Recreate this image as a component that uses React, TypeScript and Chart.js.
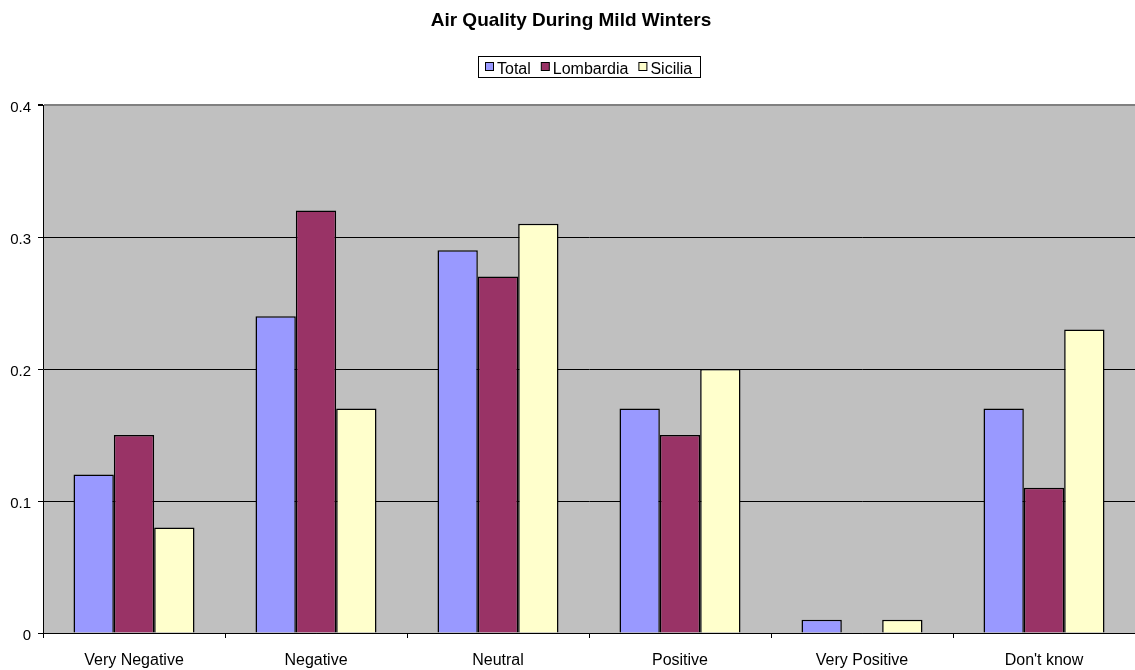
import React, { useEffect, useRef } from 'react';
import { Chart, registerables } from 'chart.js';

Chart.register(...registerables);

const chartTitle = 'Air Quality During Mild Winters';
const categories = ['Very Negative', 'Negative', 'Neutral', 'Positive', 'Very Positive', "Don't know"];
const seriesNames = ['Total', 'Lombardia', 'Sicilia'];
const totalValues = [0.12, 0.24, 0.29, 0.17, 0.01, 0.17];
const lombardiaValues = [0.15, 0.32, 0.27, 0.15, 0, 0.11];
const siciliaValues = [0.08, 0.17, 0.31, 0.2, 0.01, 0.23];
const seriesColors = ['#9999FF', '#993366', '#FFFFCC'];
const yTicks = [0, 0.1, 0.2, 0.3, 0.4];
const yTickLabels = ['0', '0.1', '0.2', '0.3', '0.4'];

const FONT = '"Liberation Sans", Arial, sans-serif';

const decorPlugin = {
  id: 'decor',
  beforeDraw(chart: any) {
    const { ctx, chartArea: a } = chart;
    ctx.save();
    ctx.fillStyle = '#C0C0C0';
    ctx.fillRect(a.left, a.top, a.right - a.left, a.bottom - a.top);
    ctx.restore();
  },
  afterDraw(chart: any) {
    const { ctx } = chart;
    ctx.save();
    // title
    ctx.fillStyle = '#000';
    ctx.font = `bold 19px ${FONT}`;
    ctx.textAlign = 'center';
    ctx.textBaseline = 'alphabetic';
    ctx.fillText(chartTitle, 571, 26);
    // legend
    ctx.font = `16px ${FONT}`;
    ctx.textAlign = 'left';
    const sq = 8;
    const startX = 485;
    let x = startX;
    const items = chart.data.datasets.map((d: any) => ({ label: d.label, color: d.backgroundColor }));
    const positions: number[] = [];
    items.forEach((it: any) => {
      positions.push(x);
      x += sq + 4 + ctx.measureText(it.label).width + 10;
    });
    const boxLeft = 478.5;
    const boxRight = Math.round(x - 10 + 8) + 0.5;
    ctx.fillStyle = '#FFFFFF';
    ctx.fillRect(boxLeft, 56.5, boxRight - boxLeft, 21);
    ctx.strokeStyle = '#000';
    ctx.lineWidth = 1;
    ctx.strokeRect(boxLeft, 56.5, boxRight - boxLeft, 21);
    items.forEach((it: any, i: number) => {
      const px = positions[i];
      ctx.fillStyle = it.color;
      ctx.fillRect(px + 0.5, 62.5, sq, sq);
      ctx.strokeStyle = '#000';
      ctx.strokeRect(px + 0.5, 62.5, sq, sq);
      ctx.fillStyle = '#000';
      ctx.fillText(it.label, px + sq + 4, 74);
    });
    ctx.restore();
  },
};

export default function App() {
  const canvasRef = useRef<HTMLCanvasElement | null>(null);

  useEffect(() => {
    if (!canvasRef.current) return;
    const values = [totalValues, lombardiaValues, siciliaValues];
    const chart = new Chart(canvasRef.current, {
      type: 'bar',
      data: {
        labels: categories,
        datasets: seriesNames.map((name, i) => ({
          label: name,
          data: values[i],
          backgroundColor: seriesColors[i],
          borderColor: '#000000',
          borderWidth: 1.5,
          categoryPercentage: 0.665,
          barPercentage: 1,
        })),
      },
      options: {
        responsive: false,
        animation: false,
        devicePixelRatio: 1,
        layout: { padding: { top: 105, left: 0, right: 0, bottom: 0 } },
        plugins: {
          legend: { display: false },
          title: { display: false },
          tooltip: { enabled: false },
        },
        scales: {
          x: {
            offset: true,
            grid: { offset: true, drawOnChartArea: false, tickLength: 5, color: '#000000' },
            border: { color: '#000000', width: 1 },
            ticks: { color: '#000000', font: { family: FONT, size: 16 }, padding: 13, maxRotation: 0, autoSkip: false },
            afterFit: (scale: any) => {
              scale.height = 37;
            },
          },
          y: {
            min: 0,
            max: 0.4,
            afterBuildTicks: (scale: any) => {
              scale.ticks = yTicks.map((v) => ({ value: v }));
            },
            grid: {
              color: (c: any) => (c.tick && c.tick.value === 0.4 ? '#808080' : '#000000'),
              lineWidth: (c: any) => (c.tick && c.tick.value === 0.4 ? 2 : 1),
              tickLength: 5,
              tickColor: '#000000',
            },
            border: { color: '#000000', width: 1 },
            ticks: {
              color: '#000000',
              font: { family: FONT, size: 15 },
              padding: 7,
              labelOffset: 3,
              callback: (_v: any, i: number) => yTickLabels[i],
            },
            afterFit: (scale: any) => {
              scale.width = 43;
            },
          },
        },
      },
      plugins: [decorPlugin],
    });
    return () => chart.destroy();
  }, []);

  return (
    <div style={{ position: 'fixed', left: 0, top: 0, width: 1135, height: 670, background: '#FFFFFF' }}>
      <canvas ref={canvasRef} width={1135} height={670} style={{ display: 'block' }} />
    </div>
  );
}
